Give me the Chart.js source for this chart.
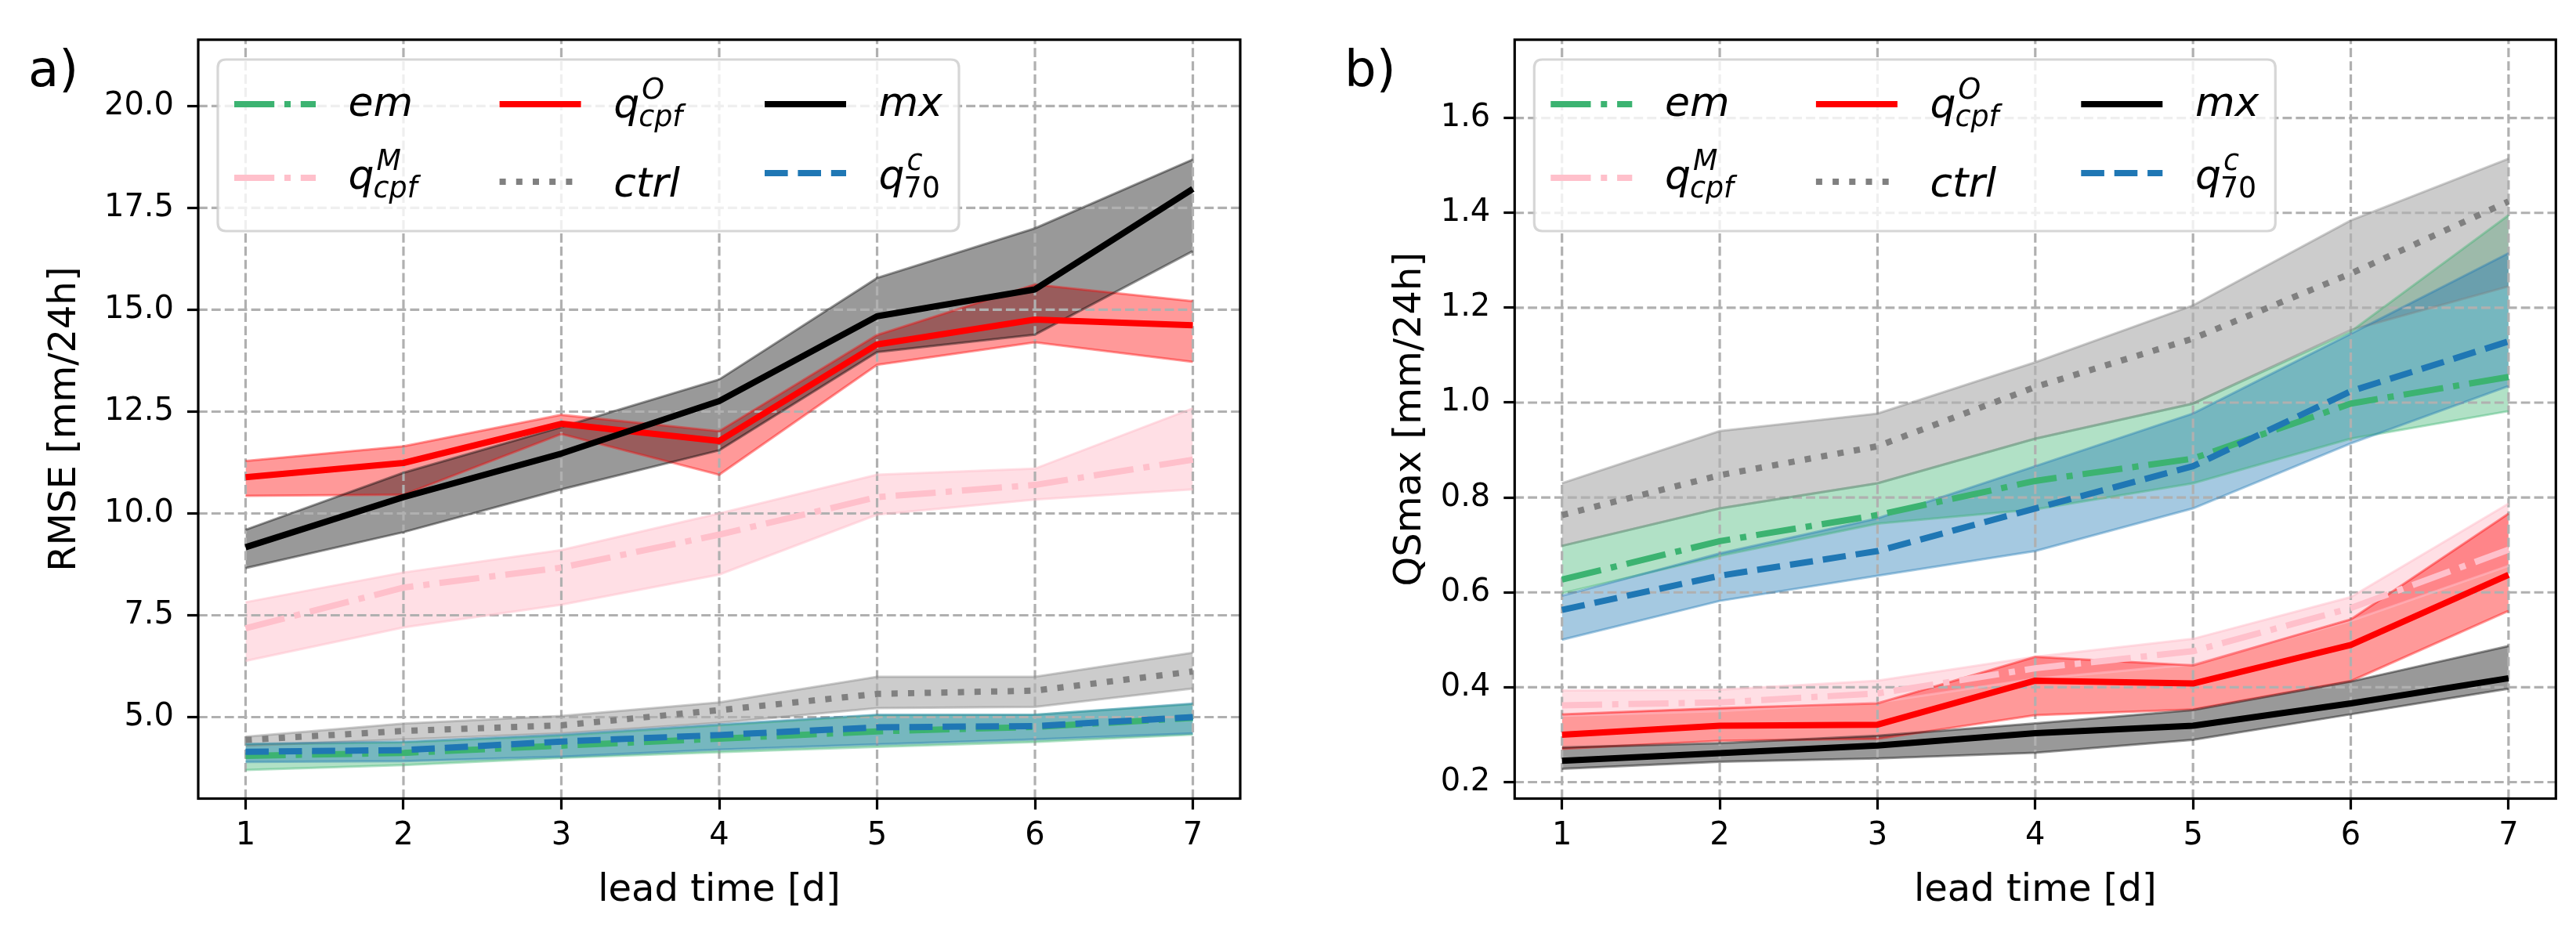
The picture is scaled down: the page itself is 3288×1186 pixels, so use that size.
<!DOCTYPE html>
<html>
<head>
<meta charset="utf-8">
<script src="https://cdn.jsdelivr.net/npm/chart.js@4.4.1/dist/chart.umd.min.js"></script>
<style>
html,body{margin:0;padding:0;background:#fff;}
#wrap{position:relative;width:3288px;height:1186px;overflow:hidden;background:#fff;}
canvas{position:absolute;top:0;}
</style>
</head>
<body>
<div id="wrap">
<canvas id="c1" width="1644" height="1186" style="left:0;width:1644px;height:1186px"></canvas>
<canvas id="c2" width="1644" height="1186" style="left:1644px;width:1644px;height:1186px"></canvas>
</div>
<script>
// ---------------- data ----------------
const leadTimes = [1, 2, 3, 4, 5, 6, 7];
const rmseTicks = [5.0, 7.5, 10.0, 12.5, 15.0, 17.5, 20.0];
const qsTicks = [0.2, 0.4, 0.6, 0.8, 1.0, 1.2, 1.4, 1.6];

// panel a) RMSE [mm/24h]
const rmseEm     = [4.05, 4.12, 4.30, 4.47, 4.65, 4.76, 4.98];
const rmseEmLo   = [3.70, 3.82, 4.00, 4.14, 4.27, 4.39, 4.57];
const rmseEmHi   = [4.33, 4.38, 4.55, 4.80, 5.05, 5.06, 5.32];
const rmseQM     = [7.18, 8.18, 8.67, 9.48, 10.40, 10.70, 11.32];
const rmseQMLo   = [6.38, 7.20, 7.76, 8.50, 9.97, 10.34, 10.59];
const rmseQMHi   = [7.82, 8.55, 9.10, 10.00, 10.95, 11.10, 12.58];
const rmseQO     = [10.89, 11.24, 12.20, 11.78, 14.15, 14.76, 14.62];
const rmseQOLo   = [10.43, 10.46, 11.95, 10.95, 13.65, 14.20, 13.72];
const rmseQOHi   = [11.29, 11.65, 12.42, 12.02, 14.38, 15.62, 15.21];
const rmseCtrl   = [4.44, 4.66, 4.80, 5.17, 5.57, 5.65, 6.12];
const rmseCtrlLo = [4.30, 4.45, 4.60, 4.86, 5.22, 5.25, 5.70];
const rmseCtrlHi = [4.52, 4.84, 5.03, 5.36, 5.99, 5.99, 6.58];
const rmseMx     = [9.17, 10.40, 11.47, 12.76, 14.84, 15.50, 17.97];
const rmseMxLo   = [8.66, 9.54, 10.59, 11.55, 13.96, 14.39, 16.44];
const rmseMxHi   = [9.60, 11.00, 12.12, 13.29, 15.78, 17.00, 18.69];
const rmseQ70    = [4.15, 4.19, 4.40, 4.56, 4.75, 4.78, 5.00];
const rmseQ70Lo  = [3.90, 3.92, 4.03, 4.20, 4.33, 4.45, 4.60];
const rmseQ70Hi  = [4.34, 4.40, 4.57, 4.82, 5.06, 5.06, 5.33];

// panel b) QSmax [mm/24h]
const qsEm     = [0.627, 0.708, 0.763, 0.835, 0.882, 0.998, 1.054];
const qsEmLo   = [0.598, 0.677, 0.745, 0.775, 0.830, 0.924, 0.982];
const qsEmHi   = [0.698, 0.777, 0.830, 0.924, 0.998, 1.150, 1.395];
const qsQM     = [0.362, 0.368, 0.387, 0.440, 0.476, 0.567, 0.690];
const qsQMLo   = [0.340, 0.350, 0.368, 0.418, 0.448, 0.540, 0.656];
const qsQMHi   = [0.393, 0.395, 0.414, 0.464, 0.502, 0.590, 0.787];
const qsQO     = [0.300, 0.319, 0.321, 0.414, 0.408, 0.489, 0.637];
const qsQOLo   = [0.270, 0.287, 0.291, 0.341, 0.353, 0.413, 0.561];
const qsQOHi   = [0.343, 0.356, 0.366, 0.464, 0.446, 0.543, 0.766];
const qsCtrl   = [0.763, 0.847, 0.908, 1.033, 1.135, 1.272, 1.424];
const qsCtrlLo = [0.698, 0.777, 0.830, 0.924, 0.998, 1.153, 1.245];
const qsCtrlHi = [0.830, 0.940, 0.977, 1.085, 1.205, 1.384, 1.514];
const qsMx     = [0.245, 0.261, 0.277, 0.303, 0.319, 0.366, 0.419];
const qsMxLo   = [0.228, 0.243, 0.250, 0.262, 0.289, 0.343, 0.397];
const qsMxHi   = [0.273, 0.282, 0.298, 0.324, 0.352, 0.412, 0.487];
const qsQ70    = [0.563, 0.635, 0.687, 0.777, 0.866, 1.024, 1.129];
const qsQ70Lo  = [0.500, 0.582, 0.635, 0.687, 0.777, 0.914, 1.035];
const qsQ70Hi  = [0.593, 0.682, 0.756, 0.866, 0.977, 1.145, 1.315];

// ---------------- styles ----------------
const FONT = "'DejaVu Sans', sans-serif";
Chart.defaults.font.family = FONT;
Chart.defaults.color = '#000';
const LW = 8;
const styles = {
  em:   {color: '#3cb371', dash: [51.2, 12.8, 8, 12.8], band: 'rgba(60,179,113,0.4)',  label: {base: 'em'}},
  qM:   {color: '#ffc0cb', dash: [51.2, 12.8, 8, 12.8], band: 'rgba(255,192,203,0.5)', label: {base: 'q', sup: 'M', sub: 'cpf'}},
  qO:   {color: '#ff0000', dash: [],                     band: 'rgba(255,0,0,0.4)',     label: {base: 'q', sup: 'O', sub: 'cpf'}},
  ctrl: {color: '#808080', dash: [8, 13.2],              band: 'rgba(128,128,128,0.4)', label: {base: 'ctrl'}},
  mx:   {color: '#000000', dash: [],                     band: 'rgba(0,0,0,0.4)',       label: {base: 'mx'}},
  q70:  {color: '#1f77b4', dash: [29.6, 12.8],           band: 'rgba(31,119,180,0.4)',  label: {base: 'q', sup: 'c', sub: '70', subUpright: true}}
};
const plotOrder = ['em', 'qM', 'qO', 'ctrl', 'mx', 'q70'];
// legend placement: [key, column, handle dy, text baseline dy]
const legendLayout = [
  ['em', 0, 57, 72], ['qM', 0, 151, 165],
  ['qO', 1, 57, 74], ['ctrl', 1, 156, 175],
  ['mx', 2, 57, 72], ['q70', 2, 145, 165]
];
const legendCols = [21, 359.6, 698];

function pts(arr) { return arr.map((v, i) => ({x: leadTimes[i], y: v})); }

function buildDatasets(series) {
  const ds = [];
  plotOrder.forEach((k, i) => {
    const s = series[k], st = styles[k];
    ds.push({label: k + '_lo', data: pts(s.lo), borderColor: st.band, borderWidth: 3, pointRadius: 0, fill: false, order: 200 - i * 2});
    ds.push({label: k + '_hi', data: pts(s.hi), borderColor: st.band, borderWidth: 3, pointRadius: 0, fill: '-1', backgroundColor: st.band, order: 199 - i * 2});
  });
  plotOrder.forEach((k, i) => {
    const s = series[k], st = styles[k];
    ds.push({label: k, data: pts(s.mid), borderColor: st.color, borderWidth: LW, borderDash: st.dash,
      borderCapStyle: 'butt', borderJoinStyle: 'round', pointRadius: 0, fill: false, order: 50 - i});
  });
  return ds;
}

function drawMath(ctx, lab, x, y) {
  ctx.fillStyle = '#000';
  ctx.textAlign = 'left';
  ctx.textBaseline = 'alphabetic';
  ctx.font = 'italic 52px ' + FONT;
  ctx.fillText(lab.base, x, y);
  const w = ctx.measureText(lab.base).width;
  if (lab.sup) { ctx.font = 'italic 36.4px ' + FONT; ctx.fillText(lab.sup, x + w + 3, y - 24); }
  if (lab.sub) { ctx.font = (lab.subUpright ? '' : 'italic ') + '36.4px ' + FONT; ctx.fillText(lab.sub, x + w - 1, y + 11); }
}

function roundRect(ctx, x, y, w, h, r) {
  ctx.beginPath();
  ctx.moveTo(x + r, y);
  ctx.lineTo(x + w - r, y); ctx.quadraticCurveTo(x + w, y, x + w, y + r);
  ctx.lineTo(x + w, y + h - r); ctx.quadraticCurveTo(x + w, y + h, x + w - r, y + h);
  ctx.lineTo(x + r, y + h); ctx.quadraticCurveTo(x, y + h, x, y + h - r);
  ctx.lineTo(x, y + r); ctx.quadraticCurveTo(x, y, x + r, y);
  ctx.closePath();
}

function makeDecor(panelLabel, labelX) {
  return {
    id: 'decor',
    beforeDatasetsDraw(chart) {
      const ctx = chart.ctx, a = chart.chartArea;
      ctx.save();
      ctx.strokeStyle = '#b0b0b0';
      ctx.lineWidth = 3.2;
      ctx.setLineDash([11.8, 5.1]);
      chart.scales.x.ticks.forEach(t => {
        const px = chart.scales.x.getPixelForValue(t.value);
        ctx.beginPath(); ctx.moveTo(px, a.bottom); ctx.lineTo(px, a.top); ctx.stroke();
      });
      chart.scales.y.ticks.forEach(t => {
        const py = chart.scales.y.getPixelForValue(t.value);
        ctx.beginPath(); ctx.moveTo(a.left, py); ctx.lineTo(a.right, py); ctx.stroke();
      });
      ctx.restore();
    },
    afterDraw(chart) {
      const ctx = chart.ctx, a = chart.chartArea;
      ctx.save();
      // spines
      ctx.setLineDash([]);
      ctx.strokeStyle = '#000';
      ctx.lineWidth = 3.2;
      ctx.strokeRect(a.left, a.top, a.right - a.left, a.bottom - a.top);
      // legend
      const bx = a.left + 25, by = a.top + 25.3, bw = 946, bh = 219;
      roundRect(ctx, bx, by, bw, bh, 10.4);
      ctx.fillStyle = 'rgba(255,255,255,0.8)';
      ctx.fill();
      ctx.strokeStyle = 'rgba(204,204,204,0.8)';
      ctx.lineWidth = 3.2;
      ctx.stroke();
      legendLayout.forEach(([k, col, hy, ty]) => {
        const st = styles[k];
        const hx = bx + legendCols[col];
        ctx.save();
        ctx.strokeStyle = st.color;
        ctx.lineWidth = LW;
        ctx.lineCap = 'butt';
        ctx.setLineDash(st.dash);
        ctx.beginPath(); ctx.moveTo(hx, by + hy); ctx.lineTo(hx + 104, by + hy); ctx.stroke();
        ctx.restore();
        drawMath(ctx, st.label, hx + 145.6, by + ty);
      });
      // panel label
      ctx.fillStyle = '#000';
      ctx.font = '64px ' + FONT;
      ctx.textAlign = 'left';
      ctx.textBaseline = 'alphabetic';
      ctx.fillText(panelLabel, labelX, 110);
      ctx.restore();
    }
  };
}

function makeChart(canvasId, series, cfg) {
  return new Chart(document.getElementById(canvasId), {
    type: 'line',
    data: {datasets: buildDatasets(series)},
    options: {
      responsive: false,
      animation: false,
      devicePixelRatio: 1,
      layout: {padding: {left: 0, right: cfg.padRight, top: 50.7, bottom: 0}},
      plugins: {
        legend: {display: false},
        tooltip: {enabled: false},
        filler: {drawTime: 'beforeDatasetsDraw', propagate: false}
      },
      scales: {
        x: {
          type: 'linear', min: 0.7, max: 7.3,
          afterBuildTicks: s => { s.ticks = leadTimes.map(v => ({value: v})); },
          afterFit: s => { s.height = 166.5; },
          grid: {drawOnChartArea: false, drawTicks: true, tickLength: 14, tickWidth: 3.2, tickColor: '#000'},
          border: {display: false},
          ticks: {autoSkip: false, maxRotation: 0, padding: 10.5, color: '#000', font: {size: 40}, callback: v => String(v)},
          title: {display: true, text: 'lead time [d]', color: '#000', font: {size: 48}, padding: {top: 0, bottom: 19.5}}
        },
        y: {
          type: 'linear', min: cfg.yMin, max: cfg.yMax,
          afterBuildTicks: s => { s.ticks = cfg.yTicks.map(v => ({value: v})); },
          afterFit: s => { s.width = cfg.yWidth; },
          grid: {drawOnChartArea: false, drawTicks: true, tickLength: 14, tickWidth: 3.2, tickColor: '#000'},
          border: {display: false},
          ticks: {autoSkip: false, padding: 17, color: '#000', font: {size: 40}, callback: v => Number(v).toFixed(1)},
          title: {display: true, text: cfg.yTitle, color: '#000', font: {size: 48}, padding: {top: cfg.titlePad, bottom: 0}}
        }
      }
    },
    plugins: [makeDecor(cfg.panel, cfg.panelX)]
  });
}

makeChart('c1', {
  em:   {mid: rmseEm,   lo: rmseEmLo,   hi: rmseEmHi},
  qM:   {mid: rmseQM,   lo: rmseQMLo,   hi: rmseQMHi},
  qO:   {mid: rmseQO,   lo: rmseQOLo,   hi: rmseQOHi},
  ctrl: {mid: rmseCtrl, lo: rmseCtrlLo, hi: rmseCtrlHi},
  mx:   {mid: rmseMx,   lo: rmseMxLo,   hi: rmseMxHi},
  q70:  {mid: rmseQ70,  lo: rmseQ70Lo,  hi: rmseQ70Hi}
}, {yMin: 3.0, yMax: 21.63, yTicks: rmseTicks, yWidth: 253, padRight: 61, yTitle: 'RMSE [mm/24h]', titlePad: 55, panel: 'a)', panelX: 36});

makeChart('c2', {
  em:   {mid: qsEm,   lo: qsEmLo,   hi: qsEmHi},
  qM:   {mid: qsQM,   lo: qsQMLo,   hi: qsQMHi},
  qO:   {mid: qsQO,   lo: qsQOLo,   hi: qsQOHi},
  ctrl: {mid: qsCtrl, lo: qsCtrlLo, hi: qsCtrlHi},
  mx:   {mid: qsMx,   lo: qsMxLo,   hi: qsMxHi},
  q70:  {mid: qsQ70,  lo: qsQ70Lo,  hi: qsQ70Hi}
}, {yMin: 0.1653, yMax: 1.765, yTicks: qsTicks, yWidth: 289.3, padRight: 25.7, yTitle: 'QSmax [mm/24h]', titlePad: 128, panel: 'b)', panelX: 72});
</script>
</body>
</html>
